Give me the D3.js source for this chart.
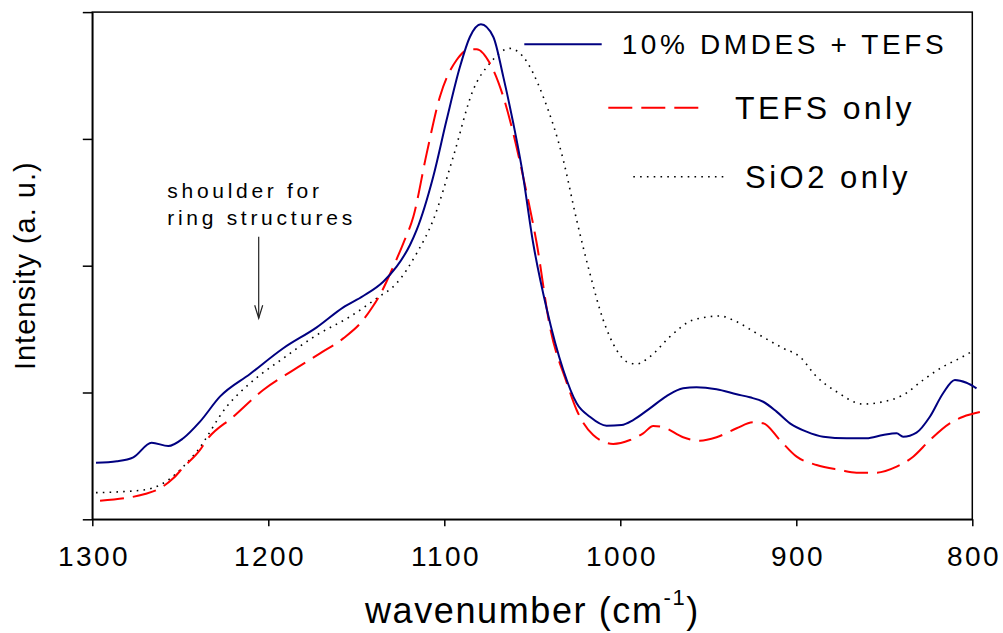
<!DOCTYPE html>
<html>
<head>
<meta charset="utf-8">
<script src="https://cdn.jsdelivr.net/npm/d3@7"></script>
<style>
  html, body { margin: 0; padding: 0; background: #fff; }
  svg { display: block; font-family: "Liberation Sans", Arial, sans-serif; }
</style>
</head>
<body>
<svg id="chart" width="1003" height="633"></svg>
<script>
// FTIR absorbance spectra: [wavenumber (cm^-1), intensity (a.u.)]
const dmdesTefs = [
  [1297.9, 0.446], [1286, 0.458], [1276.7, 0.489], [1266.3, 0.604], [1256.8, 0.578],
  [1248.3, 0.639], [1238.8, 0.770], [1227.5, 0.967], [1210.4, 1.146], [1191.5, 1.349],
  [1172.5, 1.514], [1157.4, 1.672], [1146.1, 1.761], [1134.7, 1.874], [1127.1, 1.992],
  [1119.5, 2.163], [1115.7, 2.282], [1106.3, 2.702], [1098.7, 3.149], [1091.1, 3.569],
  [1085.4, 3.806], [1079.2, 3.904], [1072.2, 3.806], [1066.5, 3.491], [1060.8, 3.123],
  [1056.1, 2.781], [1049.5, 2.177], [1041.9, 1.664], [1032.4, 1.177], [1024.8, 0.915],
  [1017.3, 0.809], [1007.8, 0.738], [999.3, 0.744], [992.7, 0.783], [983.2, 0.875],
  [973.7, 0.972], [964.3, 1.033], [956.7, 1.041], [945.3, 1.025], [933.9, 0.986],
  [926.4, 0.962], [918.8, 0.927], [911.2, 0.849], [903.6, 0.757], [894.2, 0.691],
  [884.7, 0.651], [871.4, 0.639], [860.1, 0.639], [850.7, 0.665], [843.0, 0.678],
  [839.3, 0.651], [831.7, 0.683], [824.1, 0.809], [816.6, 0.994], [809.9, 1.099],
  [803.3, 1.077], [797.6, 1.033]
];

const tefsOnly = [
  [1295.6, 0.147], [1270.1, 0.200], [1263.4, 0.231], [1254.0, 0.323], [1248.3, 0.409],
  [1238.8, 0.547], [1235.0, 0.625], [1219.9, 0.809], [1202.9, 1.020], [1185.8, 1.177],
  [1170.6, 1.309], [1157.4, 1.427], [1146.1, 1.572], [1141.3, 1.664], [1136.6, 1.769],
  [1129.0, 1.992], [1123.3, 2.177], [1117.6, 2.386], [1110.0, 2.886], [1102.5, 3.333],
  [1093.0, 3.622], [1085.4, 3.707], [1081.6, 3.707], [1074.1, 3.596], [1066.5, 3.333],
  [1060.8, 3.044], [1055.2, 2.702], [1047.5, 2.177], [1040.0, 1.519], [1030.5, 1.080],
  [1024.8, 0.862], [1015.4, 0.665], [1004.0, 0.594], [994.5, 0.625], [987.0, 0.678],
  [981.3, 0.736], [975.6, 0.726], [964.3, 0.647], [954.8, 0.620], [945.3, 0.647],
  [933.9, 0.718], [924.5, 0.765], [918.8, 0.757], [909.3, 0.625], [899.8, 0.494],
  [888.5, 0.428], [875.2, 0.389], [865.8, 0.368], [854.4, 0.368], [843.0, 0.415],
  [833.6, 0.494], [824.1, 0.625], [812.8, 0.757], [805.2, 0.809], [795.7, 0.846]
];

const sio2Only = [
  [1297.9, 0.210], [1271.0, 0.231], [1261.5, 0.271], [1252.1, 0.363], [1248.3, 0.415],
  [1240.7, 0.533], [1223.7, 0.888], [1210.4, 1.073], [1191.5, 1.270], [1172.5, 1.453],
  [1153.6, 1.598], [1138.4, 1.743], [1127.1, 1.861], [1115.7, 2.098], [1106.3, 2.360],
  [1094.9, 2.860], [1083.6, 3.386], [1074.1, 3.596], [1062.7, 3.714], [1055.2, 3.648],
  [1043.8, 3.333], [1032.4, 2.834], [1024.8, 2.360], [1017.3, 1.940], [1009.7, 1.572],
  [1002.1, 1.335], [996.4, 1.243], [990.7, 1.225], [983.2, 1.282], [971.8, 1.440],
  [958.6, 1.572], [943.4, 1.603], [933.9, 1.558], [922.6, 1.467], [907.5, 1.349],
  [898.0, 1.282], [888.5, 1.125], [877.1, 1.006], [862.0, 0.909], [850.7, 0.927],
  [839.3, 0.980], [827.9, 1.099], [816.6, 1.204], [807.1, 1.270], [800.4, 1.322]
];

const xTicks = [1300, 1200, 1100, 1000, 900, 800];
const yTicks = [0, 1, 2, 3, 4];
const seriesNames = ["10% DMDES + TEFS", "TEFS only", "SiO2 only"];

const svg = d3.select("#chart");

const x = d3.scaleLinear().domain([1300, 800]).range([92.3, 972.3]);
const y = d3.scaleLinear().domain([0, 4]).range([519.3, 12.1]);

// Plot frame
svg.append("rect")
  .attr("x", x(1300)).attr("y", y(4))
  .attr("width", x(800) - x(1300)).attr("height", y(0) - y(4))
  .attr("fill", "none").attr("stroke", "#000").attr("stroke-width", 1.5);

// Left axis: unlabeled ticks
const yAxis = svg.append("g")
  .attr("transform", `translate(${x(1300)},0)`)
  .call(d3.axisLeft(y).tickValues(yTicks).tickSize(9.5).tickSizeOuter(0).tickFormat(""));
yAxis.select(".domain").attr("stroke-width", 1.5);
yAxis.selectAll(".tick line").attr("stroke-width", 1.5);

// Bottom axis
const xAxis = svg.append("g")
  .attr("transform", `translate(0,${y(0)})`)
  .call(d3.axisBottom(x).tickValues(xTicks).tickSize(7).tickSizeOuter(0).tickFormat(d3.format("d")));
xAxis.select(".domain").attr("stroke-width", 1.5);
xAxis.selectAll(".tick line").attr("stroke-width", 1.5);
xAxis.selectAll(".tick text")
  .attr("y", 47).attr("dy", null)
  .attr("dx", 1.2)
  .attr("fill", "#000")
  .style("font-size", "28px")
  .style("letter-spacing", "2.4px")
  .style("font-family", "'Liberation Sans', Arial, sans-serif");

// Spectra
const line = d3.line()
  .x(d => x(d[0]))
  .y(d => y(d[1]))
  .curve(d3.curveMonotoneX);

const styles = [
  { data: sio2Only, color: "#000", width: 1.6, dash: "1.6,5.2" },
  { data: tefsOnly, color: "#ff0000", width: 2, dash: "24,9" },
  { data: dmdesTefs, color: "#000080", width: 2, dash: null }
];

styles.forEach(s => {
  svg.append("path")
    .datum(s.data)
    .attr("d", line)
    .attr("fill", "none")
    .attr("stroke", s.color)
    .attr("stroke-width", s.width)
    .attr("stroke-dasharray", s.dash);
});

// Legend
const legend = [
  { name: seriesNames[0], color: "#000080", width: 2, dash: null, x1: 524.3, x2: 601.7, ly: 44.3, tx: 621.7, ty: 54.3, fs: 28, ls: 3.6 },
  { name: seriesNames[1], color: "#ff0000", width: 2, dash: "24,9", x1: 608.3, x2: 700, ly: 107.7, tx: 735, ty: 119.3, fs: 32, ls: 3.4 },
  { name: seriesNames[2], color: "#000", width: 1.6, dash: "1.6,5.2", x1: 633.3, x2: 724, ly: 176.7, tx: 745, ty: 188.3, fs: 31, ls: 3.5 }
];
legend.forEach(l => {
  svg.append("line")
    .attr("x1", l.x1).attr("x2", l.x2).attr("y1", l.ly).attr("y2", l.ly)
    .attr("stroke", l.color).attr("stroke-width", l.width)
    .attr("stroke-dasharray", l.dash);
  svg.append("text")
    .attr("x", l.tx).attr("y", l.ty)
    .style("font-size", l.fs + "px")
    .style("letter-spacing", l.ls + "px")
    .attr("fill", "#000")
    .text(l.name);
});

// Annotation with arrow
const note = svg.append("text")
  .style("font-size", "21px")
  .style("letter-spacing", "3.7px")
  .attr("fill", "#000");
note.append("tspan").attr("x", 167.3).attr("y", 198.3).text("shoulder for");
note.append("tspan").attr("x", 167.3).attr("y", 225).text("ring structures");

const ax = 258.7, ay1 = 236.7, ay2 = 318.3;
svg.append("line")
  .attr("x1", ax).attr("x2", ax).attr("y1", ay1).attr("y2", ay2)
  .attr("stroke", "#222").attr("stroke-width", 1.2);
svg.append("path")
  .attr("d", `M${ax - 4},${ay2 - 13}L${ax},${ay2}L${ax + 4},${ay2 - 13}`)
  .attr("fill", "none").attr("stroke", "#222").attr("stroke-width", 1.2);

// Axis titles
const xt = svg.append("text")
  .attr("x", 365).attr("y", 622.7)
  .style("font-size", "36px")
  .style("letter-spacing", "1.6px")
  .attr("fill", "#000");
xt.append("tspan").text("wavenumber (cm");
xt.append("tspan").attr("dy", -18).style("font-size", "22px").text("-1");
xt.append("tspan").attr("dy", 18).text(")");

svg.append("text")
  .attr("transform", `translate(34.6,${(y(0) + y(4)) / 2}) rotate(-90)`)
  .attr("text-anchor", "middle")
  .style("font-size", "29px")
  .style("letter-spacing", "1px")
  .attr("fill", "#000")
  .text("Intensity (a. u.)");
</script>
</body>
</html>
